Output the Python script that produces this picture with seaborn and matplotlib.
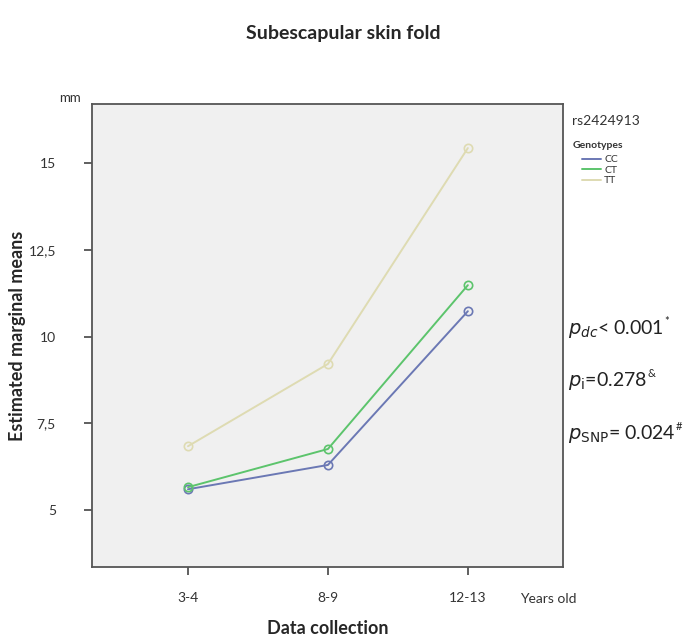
import pandas as pd
import matplotlib.pyplot as plt
import seaborn as sns

# values
ages = ['3-4', '8-9', '12-13']
genotypes = ['CC', 'CT', 'TT']
cc_means = [5.60, 6.30, 10.73]
ct_means = [5.66, 6.76, 11.48]
tt_means = [6.84, 9.21, 15.43]
y_ticks = [5, 7.5, 10, 12.5, 15]
y_tick_labels = ['5', '7,5', '10', '12,5', '15']
colors = {'CC': '#6b78b4', 'CT': '#5cc46c', 'TT': '#dedbb2'}

rows = []
for g, vals in zip(genotypes, [cc_means, ct_means, tt_means]):
    for a, v in zip(ages, vals):
        rows.append({'Age': a, 'Mean': v, 'Genotype': g})
df = pd.DataFrame(rows)

sns.set_style('ticks')
plt.rcParams['font.family'] = ['Lato', 'DejaVu Sans']

fig = plt.figure(figsize=(6.86, 6.39), dpi=100)
ax = fig.add_axes([92 / 686, 1 - 567 / 639, (563 - 92) / 686, (567 - 104) / 639])
ax.set_facecolor('#f0f0f0')

sns.lineplot(data=df, x='Age', y='Mean', hue='Genotype', palette=colors,
             marker='o', markersize=6, markerfacecolor='none', markeredgewidth=1.2,
             linewidth=1.4, sort=False, ax=ax, legend=False)
# open circles in the line colour
for ln in ax.lines:
    ln.set_markeredgecolor(ln.get_color())
    ln.set_markerfacecolor('none')

ax.set_xlim(-0.686, 2.68)
ax.set_ylim(3.36, 16.7)
ax.set_yticks(y_ticks)
ax.set_yticklabels(y_tick_labels)
ax.set_xticks(range(len(ages)))
ax.set_xticklabels(ages)
ax.tick_params(axis='both', direction='out', length=6, width=1.2, color='#444444',
               labelsize=10, labelcolor='#333333', pad=12, bottom=True, left=True)
ax.tick_params(axis='y', pad=20)
for s in ax.spines.values():
    s.set_visible(True)
    s.set_color('#555555')
    s.set_linewidth(1.3)
ax.set_xlabel('')
ax.set_ylabel('')

fig.text(0.5, 1 - 33 / 639, 'Subescapular skin fold', ha='center', va='center',
         fontsize=14, fontweight='bold')
fig.text(18 / 686, 1 - 336 / 639, 'Estimated marginal means', rotation=90,
         ha='center', va='center', fontsize=13, fontweight='bold')
fig.text(328 / 686, 1 - 629 / 639, 'Data collection', ha='center', va='center',
         fontsize=13, fontweight='bold')
fig.text(70 / 686, 1 - 98 / 639, 'mm', ha='center', va='center', fontsize=9.5,
         color='#333333')
fig.text(548 / 686, 1 - 599 / 639, 'Years old', ha='center', va='center',
         fontsize=10, color='#333333')

# legend block
fig.text(572 / 686, 1 - 121 / 639, 'rs2424913', ha='left', va='center',
         fontsize=10, color='#333333')
fig.text(573 / 686, 1 - 146 / 639, 'Genotypes', ha='left', va='center',
         fontsize=7.5, fontweight='bold', color='#333333')
handles = [plt.Line2D([], [], color=colors[g], lw=1.4) for g in genotypes]
fig.legend(handles, genotypes, loc='upper left', bbox_to_anchor=(577 / 686, 1 - 150 / 639),
           frameon=False, fontsize=7.5, handlelength=1.8, handletextpad=0.3,
           labelspacing=0.1, borderpad=0, labelcolor='#333333')

# p-values with superscript marks
p_texts = [r'$p_{dc}$< 0.001', r'$p_{\rm i}$=0.278', r'$p_{\rm SNP}$= 0.024']
p_marks = ['*', '&', '#']
p_ys = [329, 381, 434]
for txt, mark, yy in zip(p_texts, p_marks, p_ys):
    t = fig.text(568 / 686, 1 - yy / 639, txt, ha='left', va='center',
                 fontsize=14, color='#222222')
    ax.annotate(mark, xy=(1, 0.85), xycoords=t, ha='left', va='center',
                fontsize=8, color='#222222', annotation_clip=False)

fig.savefig('out.png', dpi=100)
